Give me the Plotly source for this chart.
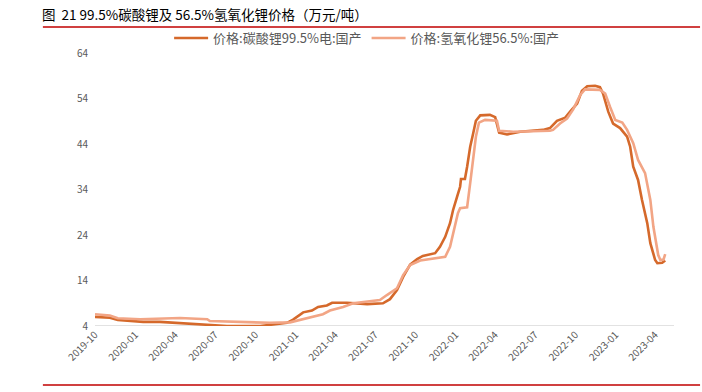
import plotly.graph_objects as go

# 价格:碳酸锂99.5%电:国产 (万元/吨)
li2co3_dates = ["2019-10-01","2019-11-04","2019-11-22","2020-01-19","2020-02-26","2020-03-27","2020-04-28",
    "2020-06-13","2020-07-28","2020-10-12","2020-11-10","2020-12-12","2020-12-26","2021-01-18","2021-02-07",
    "2021-02-21","2021-03-13","2021-03-25","2021-04-28","2021-06-13","2021-07-19","2021-08-04","2021-08-20",
    "2021-09-03","2021-09-19","2021-10-05","2021-10-18","2021-11-15","2021-11-26","2021-12-08","2021-12-19",
    "2021-12-26","2022-01-04","2022-01-11","2022-01-13","2022-01-22","2022-01-27","2022-02-03","2022-02-10",
    "2022-02-16","2022-02-26","2022-03-20","2022-04-01","2022-04-05","2022-04-10","2022-04-28","2022-05-28",
    "2022-07-19","2022-08-04","2022-08-20","2022-09-08","2022-09-19","2022-10-05","2022-10-16","2022-10-28",
    "2022-11-15","2022-11-26","2022-12-03","2022-12-15","2022-12-26","2023-01-11","2023-01-27","2023-02-03",
    "2023-02-10","2023-02-21","2023-03-02","2023-03-14","2023-03-21","2023-04-01","2023-04-06","2023-04-17",
    "2023-04-24"]
li2co3_vals = [6.0,5.8,5.3,4.9,4.9,4.7,4.6,
    4.15,4.0,4.0,4.3,4.7,5.4,7.0,7.4,
    8.2,8.5,9.1,9.1,8.8,9.0,9.9,11.9,
    14.8,17.5,18.7,19.4,20.0,21.4,23.6,26.6,
    29.5,32.4,34.6,36.3,36.3,39.0,43.4,46.4,
    49.1,50.3,50.4,49.9,48.2,46.5,46.1,46.7,
    47.1,47.5,49.1,49.8,51.1,52.9,55.7,56.7,
    56.8,56.5,55.1,51.1,48.5,47.5,45.6,43.4,
    39.0,36.1,31.7,26.6,22.2,18.5,17.8,17.9,
    18.4]

# 价格:氢氧化锂56.5%:国产 (万元/吨)
lioh_dates = ["2019-10-01","2019-11-04","2019-11-22","2020-01-12","2020-04-12","2020-06-13","2020-06-19",
    "2020-08-27","2020-11-03","2020-12-19","2021-01-11","2021-02-09","2021-03-04","2021-03-20","2021-04-19",
    "2021-05-12","2021-06-13","2021-07-12","2021-07-28","2021-08-20","2021-09-03","2021-09-19","2021-10-12",
    "2021-11-26","2021-12-08","2021-12-19","2021-12-26","2022-01-06","2022-01-11","2022-01-27","2022-02-03",
    "2022-02-10","2022-02-16","2022-02-23","2022-03-09","2022-04-05","2022-04-10","2022-05-12","2022-08-04",
    "2022-08-11","2022-08-27","2022-09-12","2022-09-26","2022-10-12","2022-10-23","2022-11-26","2022-12-08",
    "2022-12-19","2022-12-31","2023-01-16","2023-01-27","2023-02-10","2023-02-21","2023-03-09","2023-03-21",
    "2023-03-28","2023-04-08","2023-04-13","2023-04-20","2023-04-24"]
lioh_vals = [6.6,6.3,5.7,5.5,5.75,5.5,5.1,
    4.9,4.7,4.8,5.3,6.0,6.6,7.4,8.2,
    9.0,9.3,9.7,10.8,12.3,15.2,17.4,18.4,
    19.0,19.2,21.4,24.4,28.8,29.9,30.1,35.4,
    41.2,45.6,48.7,49.3,49.1,46.9,46.7,46.9,
    47.1,48.5,49.6,51.6,54.8,56.0,55.9,55.1,
    52.2,49.3,48.7,47.1,44.2,40.5,37.6,31.7,
    25.8,19.6,18.5,18.6,19.8]

tick_dates = ["2019-10-01","2020-01-01","2020-04-01","2020-07-01","2020-10-01","2021-01-01","2021-04-01",
    "2021-07-01","2021-10-01","2022-01-01","2022-04-01","2022-07-01","2022-10-01","2023-01-01","2023-04-01"]
y_ticks = [4, 14, 24, 34, 44, 54, 64]

FONT = "Noto Sans CJK SC"
DARK = "#D5692B"
LIGHT = "#F2A585"

fig = go.Figure()
fig.add_trace(go.Scatter(x=li2co3_dates, y=li2co3_vals, mode="lines",
    name="价格:碳酸锂99.5%电:国产", line=dict(color=DARK, width=2.6)))
fig.add_trace(go.Scatter(x=lioh_dates, y=lioh_vals, mode="lines",
    name="价格:氢氧化锂56.5%:国产", line=dict(color=LIGHT, width=2.6)))

fig.update_layout(
    width=702, height=392,
    margin=dict(l=95, r=28, t=53, b=66),
    plot_bgcolor="white", paper_bgcolor="white",
    font=dict(family=FONT, color="#595959", size=10),
    showlegend=True,
    legend=dict(orientation="h", x=0.128, xanchor="left", y=1.0, yanchor="bottom",
                font=dict(size=13, color="#595959", family=FONT), bgcolor="rgba(0,0,0,0)",
                itemwidth=34, tracegroupgap=0),
    xaxis=dict(type="date", range=["2019-10-01", "2023-05-14"], tickvals=tick_dates,
               tickformat="%Y-%m", tickangle=-45, showgrid=False, zeroline=False,
               showline=False, ticks="", tickfont=dict(size=10, color="#595959")),
    yaxis=dict(range=[4, 64], tickvals=y_ticks, showgrid=False, zeroline=False,
               showline=False, ticks="", ticklabelstandoff=6,
               tickfont=dict(size=10, color="#595959")),
)
# baseline
fig.add_shape(type="line", xref="paper", yref="y", x0=0, x1=1, y0=4, y1=4,
              line=dict(color="#D9D9D9", width=1.5), layer="below")
# title & red rules
fig.add_annotation(text="图  21 99.5%碳酸锂及 56.5%氢氧化锂价格（万元/吨）", xref="paper", yref="paper",
                   x=-0.095, y=1.095, xanchor="left", yanchor="bottom", yshift=1, showarrow=False,
                   font=dict(size=13.5, color="#000000", family=FONT))
fig.add_shape(type="line", xref="paper", yref="paper", x0=-0.09, x1=1.045, y0=1.095, y1=1.095,
              line=dict(color="#C00000", width=1.5))
fig.add_shape(type="line", xref="paper", yref="paper", x0=-0.09, x1=1.045, y0=-0.216, y1=-0.216,
              line=dict(color="#C00000", width=1.5))
fig.add_annotation(text="资料来源：Wind，华创证券", xref="paper", yref="paper", x=-0.095, y=-0.23,
                   xanchor="left", yanchor="top", showarrow=False,
                   font=dict(size=12, color="#000000", family=FONT))

fig.write_html("out.html", config={"displayModeBar": False},
               post_script="document.body.style.margin='0';document.body.style.overflow='hidden';")
